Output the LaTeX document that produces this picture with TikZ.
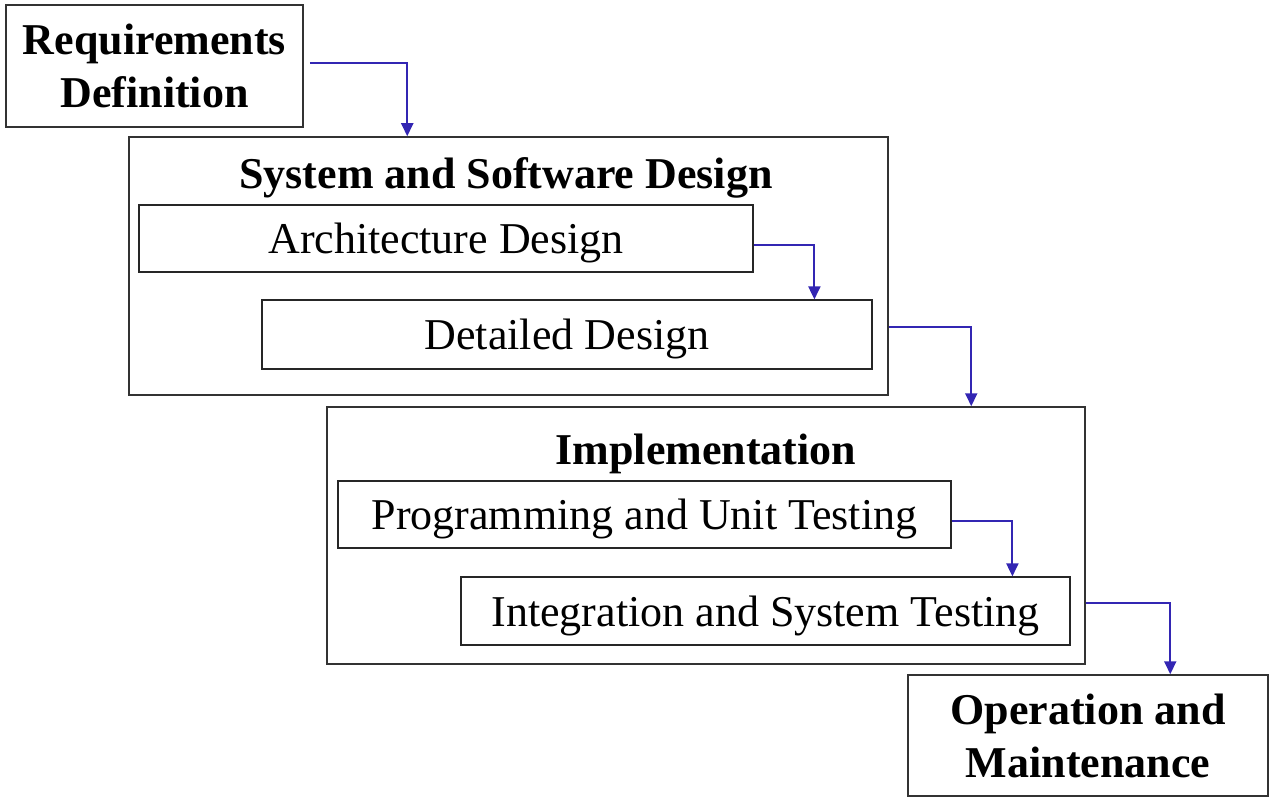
\documentclass[tikz,border=0pt]{standalone}
\usepackage{fontspec}
\setmainfont{Liberation Serif}
\usetikzlibrary{arrows.meta}
\definecolor{flowblue}{RGB}{51,38,179}

\begin{document}
\begin{tikzpicture}[x=1pt,y=-1pt]
\tikzstyle{every node}=[inner sep=0pt, font=\fontsize{44}{53}\selectfont]
\tikzstyle{phase}=[draw=black!80, line width=1.5pt, rectangle, align=center, text depth=0pt, font=\fontsize{44}{53}\selectfont\bfseries]
\tikzstyle{stage}=[draw=black!80, line width=1.5pt, rectangle]
\tikzstyle{title}=[font=\fontsize{44}{53}\selectfont\bfseries]
\tikzstyle{task}=[draw=black!85, line width=1.2pt, rectangle, text depth=0pt]
\tikzstyle{flow}=[draw=flowblue, line width=2pt, -{Triangle[width=12pt,length=13pt]}]
\useasboundingbox (0,0) rectangle (1272,802);
\draw (154.5,66) node (req) [phase, minimum width=297pt, minimum height=122pt] {Requirements\\Definition};
\draw (508.5,266) node (sysdes) [stage, minimum width=759pt, minimum height=258pt] {};
\draw (506,178) node (sysdestitle) [title] {System and Software Design};
\draw (446,238.5) node (archdes) [task, minimum width=614pt, minimum height=67pt] {Architecture Design};
\draw (567,334.5) node (detdes) [task, minimum width=610pt, minimum height=69pt] {Detailed Design};
\draw (706,535.5) node (impl) [stage, minimum width=758pt, minimum height=257pt] {};
\draw (706,454) node (impltitle) [title] {Implementation};
\draw (644.5,514.5) node (progtest) [task, minimum width=613pt, minimum height=67pt] {Programming and Unit Testing};
\draw (765.5,611) node (integtest) [task, minimum width=609pt, minimum height=68pt] {Integration and System Testing};
\draw (1088,735.5) node (opmaint) [phase, minimum width=360pt, minimum height=121pt] {Operation and\\Maintenance};
\coordinate (detout) at (detdes.east -| sysdes.east);
\coordinate (integout) at (integtest.east -| impl.east);
\draw[flow] ([xshift=6pt,yshift=3pt]req.east) -| ([xshift=279pt]sysdes.north west);
\draw[flow] ([yshift=-7pt]archdes.east) -| ([xshift=553pt]detdes.north west);
\draw[flow] ([yshift=7pt]detout) -| ([xshift=645pt]impl.north west);
\draw[flow] ([yshift=-6.5pt]progtest.east) -| ([xshift=552pt]integtest.north west);
\draw[flow] ([yshift=8pt]integout) -| ([xshift=263pt]opmaint.north west);
\end{tikzpicture}
\end{document}
